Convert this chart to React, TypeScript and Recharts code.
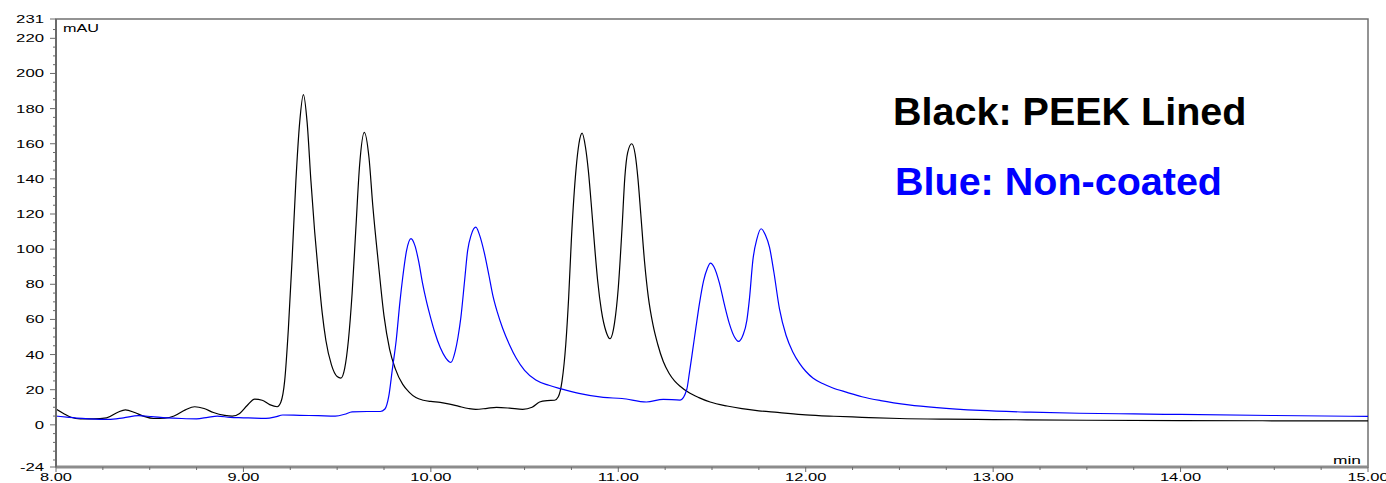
import { Line, LineChart, ReferenceArea, XAxis, YAxis } from 'recharts';

// retention time (min) / absorbance (mAU)
const blackTime = [
  8.0, 8.04, 8.08, 8.13, 8.2, 8.27, 8.33, 8.37, 8.42, 8.47, 8.52, 8.58, 8.63, 8.69, 8.74, 8.79,
  8.84, 8.9, 8.94, 8.98, 9.02, 9.06, 9.1, 9.14, 9.18, 9.2, 9.22, 9.24, 9.26, 9.28, 9.3, 9.32,
  9.34, 9.36, 9.38, 9.4, 9.42, 9.44, 9.47, 9.5, 9.52, 9.54, 9.56, 9.58, 9.6, 9.62, 9.645, 9.67,
  9.69, 9.72, 9.75, 9.78, 9.81, 9.85, 9.885, 9.92, 9.96, 10.0, 10.05, 10.1, 10.15, 10.2, 10.24,
  10.3, 10.35, 10.42, 10.49, 10.54, 10.58, 10.62, 10.66, 10.68, 10.7, 10.72, 10.735, 10.75,
  10.775, 10.79, 10.807, 10.825, 10.84, 10.86, 10.875, 10.89, 10.91, 10.935, 10.956, 10.98,
  11.0, 11.02, 11.035, 11.05, 11.072, 11.09, 11.105, 11.12, 11.14, 11.16, 11.185, 11.21, 11.24,
  11.27, 11.3, 11.33, 11.37, 11.43, 11.49, 11.58, 11.66, 11.75, 11.85, 12.0, 12.15, 12.3, 12.5,
  12.75, 13.0, 13.5, 14.0, 14.5, 15.0,
];
const blackSignal = [
  9, 6.5, 4.3, 3.4, 3.4, 4, 7.2, 8.5, 7, 4.8, 3.6, 3.8, 5, 8.5, 10.3, 9.3,
  7, 5.4, 5, 6.5, 11, 14.6, 14, 11.5, 10.3, 13, 25, 55, 95, 139, 172, 188,
  172, 139, 110, 86, 64, 48, 34, 27.5, 26.6, 32, 48, 75, 112, 148, 166.5, 152,
  125, 92, 62, 43, 32, 23, 18.5, 15.5, 14, 13.3, 12.8, 11.8, 10.5, 9.3, 8.8,
  9.4, 9.9, 9.5, 8.8, 10, 13, 13.8, 14, 16, 25, 46, 72, 106,
  146, 160, 166, 158, 145, 120, 100, 82, 65, 53, 49, 58,
  78, 112, 141, 155, 160, 154, 140, 120, 93, 73, 57, 46, 36,
  29.5, 25, 22, 18.8, 15.5, 13, 10.7, 9.2, 8, 7.1, 5.7, 4.9, 4.3, 3.6,
  3.2, 3.0, 2.6, 2.4, 2.3, 2.2,
];

const blueTime = [
  8.0, 8.07, 8.14, 8.21, 8.28, 8.36, 8.44, 8.51, 8.59, 8.67, 8.75, 8.81, 8.86, 8.93, 9.0, 9.06,
  9.12, 9.17, 9.21, 9.3, 9.4, 9.49, 9.54, 9.58, 9.66, 9.73, 9.755, 9.775, 9.795, 9.815, 9.835,
  9.85, 9.87, 9.894, 9.915, 9.935, 9.955, 9.975, 10.0, 10.02, 10.05, 10.08, 10.107, 10.13, 10.145,
  10.16, 10.18, 10.196, 10.215, 10.24, 10.26, 10.285, 10.31, 10.33, 10.355, 10.383, 10.42,
  10.455, 10.5, 10.56, 10.63, 10.695, 10.79, 10.92, 11.02, 11.15, 11.24, 11.33, 11.365, 11.38,
  11.397, 11.415, 11.433, 11.455, 11.475, 11.492, 11.51, 11.54, 11.565, 11.593, 11.62, 11.641,
  11.665, 11.686, 11.7, 11.718, 11.74, 11.762, 11.785, 11.807, 11.83, 11.86, 11.895, 11.931,
  11.967, 12.0, 12.04, 12.09, 12.145, 12.22, 12.3, 12.4, 12.55, 12.7, 12.93, 13.2, 13.46, 13.75,
  14.0, 14.5, 15.0,
];
const blueSignal = [
  5, 4.3, 3.7, 3.3, 3.1, 4, 5.2, 4.7, 4, 3.6, 3.4, 4.3, 5, 4.2, 4, 3.8,
  3.7, 4.5, 5.6, 5.4, 5.2, 5, 6, 7.4, 7.6, 7.6, 9, 16, 32, 48, 70,
  84, 99, 106, 102, 93, 81, 71, 60.5, 53, 44, 38, 35.5, 42, 50,
  61, 82, 99, 108, 112.5, 108, 98, 85, 74, 64, 55, 45.5,
  38, 31, 25.5, 22.5, 20.5, 17.9, 15.6, 15, 13, 14.5, 14.1, 20, 30,
  42.5, 56, 69, 82, 89, 92, 90, 80.5, 69, 57.5, 50, 47.5,
  51, 59.5, 72, 93.6, 106, 111.6, 108, 101, 87, 66, 51, 41.5,
  35, 30.5, 26.5, 23.5, 21, 18.5, 16, 13.8, 11.4, 9.8, 8.2, 7.2, 6.6, 6.2,
  5.9, 5.3, 4.8,
];

const xTicks = [
  8, 8.25, 8.5, 8.75, 9, 9.25, 9.5, 9.75, 10, 10.25, 10.5, 10.75, 11, 11.25, 11.5, 11.75,
  12, 12.25, 12.5, 12.75, 13, 13.25, 13.5, 13.75, 14, 14.25, 14.5, 14.75, 15,
];
const xMajor = [8, 9, 10, 11, 12, 13, 14, 15];
const xLabels = ['8.00', '9.00', '10.00', '11.00', '12.00', '13.00', '14.00', '15.00'];

const yTicks = [
  -24, -20, -15, -10, -5, 0, 5, 10, 15, 20, 25, 30, 35, 40, 45, 50, 55, 60, 65, 70, 75, 80, 85,
  90, 95, 100, 105, 110, 115, 120, 125, 130, 135, 140, 145, 150, 155, 160, 165, 170, 175, 180,
  185, 190, 195, 200, 205, 210, 215, 220, 225, 231,
];
const yMajor = [-24, 0, 20, 40, 60, 80, 100, 120, 140, 160, 180, 200, 220, 231];

const blackData = blackTime.map((t, i) => ({ t, v: blackSignal[i] }));
const blueData = blueTime.map((t, i) => ({ t, v: blueSignal[i] }));

const FONT = '"Liberation Sans", Arial, sans-serif';
const AXIS = '#6a6a6a';

// the instrument font is wide, so stretch the glyphs
const labelWidth = (s: string) =>
  s.split('').reduce((w, c) => w + (c === '.' ? 4 : c === '-' ? 5.5 : 9.3), 0);

function XTick(props: any) {
  const { x, y, payload } = props;
  const i = xMajor.indexOf(payload.value);
  const major = i >= 0;
  return (
    <g>
      <line x1={x} x2={x} y1={y} y2={y + (major ? 5 : 3)} stroke={AXIS} />
      {major && (
        <text
          x={x}
          y={y + 10}
          textAnchor="middle"
          dominantBaseline="central"
          fontSize={11}
          fontFamily={FONT}
          fill="#000"
          textLength={labelWidth(xLabels[i])}
          lengthAdjust="spacingAndGlyphs"
        >
          {xLabels[i]}
        </text>
      )}
    </g>
  );
}

function YTick(props: any) {
  const { x, y, payload } = props;
  const major = yMajor.includes(payload.value);
  const s = String(payload.value);
  return (
    <g>
      <line x1={x - (major ? 6 : 3)} x2={x} y1={y} y2={y} stroke={AXIS} />
      {major && (
        <text
          x={x - 12}
          y={y}
          textAnchor="end"
          dominantBaseline="central"
          fontSize={11}
          fontFamily={FONT}
          fill="#000"
          textLength={labelWidth(s)}
          lengthAdjust="spacingAndGlyphs"
        >
          {s}
        </text>
      )}
    </g>
  );
}

export default function App() {
  return (
    <div style={{ position: 'absolute', left: 0, top: 0, width: 1386, height: 483, background: '#fff' }}>
      <LineChart width={1386} height={483} margin={{ top: 19, right: 18, bottom: 0, left: 0 }}>
        <XAxis
          dataKey="t"
          type="number"
          domain={[8, 15]}
          ticks={xTicks}
          interval={0}
          height={16}
          tickSize={0}
          tickMargin={0}
          tickLine={false}
          axisLine={{ stroke: '#8c8c8c', strokeWidth: 3 }}
          tick={<XTick />}
          allowDataOverflow
        />
        <YAxis
          type="number"
          domain={[-24, 231]}
          ticks={yTicks}
          interval={0}
          width={56}
          tickSize={0}
          tickMargin={0}
          tickLine={false}
          axisLine={{ stroke: AXIS, strokeWidth: 2 }}
          tick={<YTick />}
          allowDataOverflow
        />
        <ReferenceArea x1={8} x2={15} y1={-24} y2={231} fill="none" stroke="#707070" strokeWidth={1.5} />
        <Line
          data={blackData}
          dataKey="v"
          type="monotone"
          stroke="#000"
          strokeWidth={1.2}
          dot={false}
          activeDot={false}
          isAnimationActive={false}
        />
        <Line
          data={blueData}
          dataKey="v"
          type="monotone"
          stroke="#0000ff"
          strokeWidth={1.2}
          dot={false}
          activeDot={false}
          isAnimationActive={false}
        />
      </LineChart>
      <svg
        width={1386}
        height={483}
        style={{ position: 'absolute', left: 0, top: 0, pointerEvents: 'none' }}
      >
        <text x={63} y={31.5} fontSize={11} fontFamily={FONT} textLength={36} lengthAdjust="spacingAndGlyphs">
          mAU
        </text>
        <text x={1333} y={463.5} fontSize={11} fontFamily={FONT} textLength={28} lengthAdjust="spacingAndGlyphs">
          min
        </text>
        <text x={893} y={125} fontSize={39.5} fontWeight="bold" fontFamily={FONT} fill="#000">
          Black: PEEK Lined
        </text>
        <text x={895} y={195} fontSize={39.5} fontWeight="bold" fontFamily={FONT} fill="#0000ff">
          Blue: Non-coated
        </text>
      </svg>
    </div>
  );
}
